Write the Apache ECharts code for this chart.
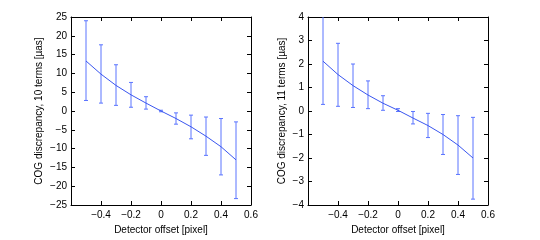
<!DOCTYPE html>
<html><head><meta charset="utf-8">
<script src="https://cdn.jsdelivr.net/npm/echarts@6/dist/echarts.min.js"></script>
<style>html,body{margin:0;padding:0;background:#fff}#c{width:540px;height:240px}</style>
</head><body><div id="c"></div>
<script>
const offsets = [-0.5,-0.4,-0.3,-0.2,-0.1,0,0.1,0.2,0.3,0.4,0.5];
const center10 = [13.3,9.8,6.8,4.3,2.1,0.0,-2.0,-4.2,-6.7,-9.5,-13.0];
const high10 = [24.0,17.6,12.3,7.6,3.8,0.2,-0.5,-1.1,-1.6,-2.0,-2.9];
const low10 = [2.8,2.1,1.5,1.0,0.5,-0.2,-3.5,-7.4,-11.8,-17.0,-23.3];
const center11 = [2.12,1.55,1.08,0.68,0.33,0.03,-0.30,-0.62,-1.00,-1.45,-2.00];
const high11 = [4.2,2.88,2.0,1.28,0.65,0.10,-0.02,-0.10,-0.15,-0.20,-0.27];
const low11 = [0.28,0.20,0.15,0.10,0.03,-0.02,-0.55,-1.13,-1.85,-2.70,-3.75];
const xTicks = [-0.6,0.6,0.2];
const yTicks10 = [-25,25,5];
const yTicks11 = [-4,4,1];

const FONT = 'Liberation Sans';
const LINE = '#3a56f0';
const BAR = '#5a74ff';
const fmtMinus = v => String(Math.round(v*10)/10).replace('-', '\u2212');

function xAxes(gi){
  const base = {type:'value', gridIndex:gi, min:xTicks[0], max:xTicks[1], interval:xTicks[2],
    splitLine:{show:false},
    axisLine:{onZero:false, lineStyle:{color:'#000', width:1}},
    axisTick:{inside:true, length:4, lineStyle:{color:'#000'}}};
  return [
    Object.assign({}, base, {position:'bottom', name:'Detector offset [pixel]', nameLocation:'middle', nameGap:20,
      nameTextStyle:{fontFamily:FONT, fontSize:10, color:'#000'},
      axisLabel:{fontFamily:FONT, fontSize:10, color:'#000', margin:5,
        formatter: v => Math.abs(v+0.6)<1e-9 ? '' : fmtMinus(v)}}),
    Object.assign({}, base, {position:'top', axisLabel:{show:false}})
  ];
}
function yAxes(gi, t, name){
  const base = {type:'value', gridIndex:gi, min:t[0], max:t[1], interval:t[2],
    splitLine:{show:false},
    axisLine:{onZero:false, lineStyle:{color:'#000', width:1}},
    axisTick:{inside:true, length:4, lineStyle:{color:'#000'}}};
  return [
    Object.assign({}, base, {position:'left', name:name, nameLocation:'middle', nameGap: gi===0?27:21, nameRotate:90,
      nameTextStyle:{fontFamily:FONT, fontSize:10, color:'#000'},
      axisLabel:{fontFamily:FONT, fontSize:10, color:'#000', margin:4, formatter: v => fmtMinus(v)}}),
    Object.assign({}, base, {position:'right', axisLabel:{show:false}})
  ];
}
function errSeries(xi, yi, lo, hi){
  return {type:'custom', xAxisIndex:xi, yAxisIndex:yi, clip:true, silent:true,
    data: offsets.map((x,i)=>[x, lo[i], hi[i]]),
    renderItem:(params, api)=>{
      const x = api.value(0);
      const p1 = api.coord([x, api.value(2)]);
      const p2 = api.coord([x, api.value(1)]);
      const w = 2;
      const st = {stroke:BAR, lineWidth:1};
      return {type:'group', children:[
        {type:'line', shape:{x1:p1[0], y1:p1[1], x2:p2[0], y2:p2[1]}, style:st},
        {type:'line', shape:{x1:p1[0]-w, y1:p1[1], x2:p1[0]+w, y2:p1[1]}, style:st},
        {type:'line', shape:{x1:p2[0]-w, y1:p2[1], x2:p2[0]+w, y2:p2[1]}, style:st}
      ]};
    }};
}
function lineSeries(xi, yi, c){
  return {type:'line', xAxisIndex:xi, yAxisIndex:yi, symbol:'none', silent:true,
    lineStyle:{color:LINE, width:1}, data: offsets.map((x,i)=>[x, c[i]])};
}
const chart = echarts.init(document.getElementById('c'), null, {renderer:'canvas'});
chart.setOption({
  animation:false,
  backgroundColor:'#fff',
  grid:[{left:71, top:17, width:180, height:197}, {left:308, top:17, width:180, height:197}],
  xAxis:[...xAxes(0), ...xAxes(1)],
  yAxis:[...yAxes(0, yTicks10, 'COG discrepancy, 10 terms [\u00b5as]'), ...yAxes(1, yTicks11, 'COG discrepancy, 11 terms [\u00b5as]')],
  series:[
    errSeries(0,0,low10,high10), lineSeries(0,0,center10),
    errSeries(2,2,low11,high11), lineSeries(2,2,center11)
  ]
});
</script></body></html>
